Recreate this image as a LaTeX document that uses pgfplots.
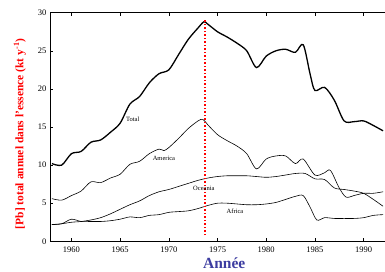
\documentclass[border=0pt]{standalone}
\usepackage{fontspec}
\setmainfont{Liberation Serif}
\usepackage{pgfplots}
\pgfplotsset{compat=1.18}
\definecolor{annee}{RGB}{60,60,160}
\begin{document}
\begin{tikzpicture}
\useasboundingbox (-50pt,-29.7pt) rectangle (335pt,241.3pt);
\begin{axis}[
  scale only axis, width=335pt, height=228.6pt,
  xmin=1957.8, xmax=1992.2, ymin=0, ymax=30,
  axis x line*=box, axis y line*=left,
  xtick={1960,1965,...,1990}, ytick={0,5,...,30},
  tick align=inside, major tick length=3pt,
  tick style={black, line width=0.6pt},
  axis line style={line width=0.9pt},
  /pgf/number format/assume math mode=true,
  /pgf/number format/1000 sep={},
  ticklabel style={font=\fontsize{8.5}{9}\selectfont},
  xticklabel style={yshift=-2pt},
  every axis y label/.style={at={(axis description cs:-0.09,0.47)}, rotate=90, anchor=center},
  every axis x label/.style={at={(axis description cs:0.52,-0.095)}, anchor=center},
  ylabel={\fontsize{11.5}{12}\selectfont\bfseries\color{red}[Pb] total annuel dans l'essence (kt y\textsuperscript{-1})},
  xlabel={\fontsize{15.5}{16}\selectfont\bfseries\color{annee}Année},
  clip=false,
]
% Total
\addplot[black, line width=1.3pt, smooth, tension=0.5] coordinates {
(1958,10.2)(1959,10.0)(1960,11.5)(1961,11.8)(1962,13.0)(1963,13.3)(1964,14.3)(1965,15.5)
(1966,18.0)(1967,19.0)(1968,20.8)(1969,22.0)(1970,22.5)(1971,24.5)(1972,26.5)(1973,28.0)
(1973.6,28.8)(1974,28.5)(1975,27.5)(1976,26.8)(1977,26.0)(1978,25.0)(1979,22.8)(1980,24.3)
(1981,25.0)(1982,25.2)(1983,24.8)(1983.8,25.8)(1984.5,22.0)(1985,19.8)(1986,20.2)(1987,18.5)
(1988,15.8)(1989,15.7)(1990,15.8)(1991,15.2)(1992,14.5)};
% America
\addplot[black, line width=0.6pt, smooth, tension=0.5] coordinates {
(1958,5.6)(1959,5.4)(1960,6.0)(1961,6.6)(1962,7.8)(1963,7.7)(1964,8.3)(1965,8.8)
(1966,10.1)(1967,10.5)(1968,11.5)(1969,12.1)(1969.5,11.9)(1970,12.3)(1971,13.5)(1972,14.8)
(1973,15.8)(1973.5,16.0)(1974,15.3)(1975,14.0)(1976,13.2)(1977,12.5)(1978,11.5)(1979,9.5)
(1980,10.8)(1981,11.2)(1982,11.2)(1983,10.2)(1983.8,10.8)(1985,8.7)(1986,9.0)(1986.6,9.3)
(1987.5,7.0)(1988.2,5.8)(1989,6.0)(1990,6.3)(1991,6.3)(1992,6.5)};
% Oceania
\addplot[black, line width=0.6pt, smooth, tension=0.5] coordinates {
(1958,2.2)(1959,2.3)(1960,2.5)(1961,2.6)(1962,2.8)(1963,3.1)(1964,3.6)(1965,4.2)
(1966,4.8)(1967,5.3)(1968,6.0)(1969,6.5)(1970,6.8)(1971,7.2)(1972,7.6)(1973,8.0)
(1974,8.3)(1975,8.5)(1976,8.6)(1977,8.6)(1978,8.6)(1979,8.5)(1980,8.4)(1981,8.5)
(1982,8.7)(1983,8.9)(1984,8.9)(1985,8.2)(1986,8.1)(1987,7.0)(1988,6.8)(1989,6.6)
(1990,6.3)(1991,5.5)(1992,4.6)};
% Africa
\addplot[black, line width=0.6pt, smooth, tension=0.5] coordinates {
(1958,2.2)(1959,2.3)(1960,2.9)(1961,2.6)(1962,2.6)(1963,2.6)(1964,2.7)(1965,2.9)
(1966,3.2)(1967,3.1)(1968,3.4)(1969,3.5)(1970,3.8)(1971,3.9)(1972,4.0)(1973,4.3)
(1974,4.7)(1975,5.0)(1976,5.0)(1977,4.9)(1978,4.8)(1979,4.8)(1980,4.9)(1981,5.1)
(1982,5.5)(1983,5.9)(1983.8,6.0)(1984.5,4.5)(1985.2,2.8)(1986,3.1)(1987,3.0)(1988,3.0)
(1989,3.0)(1990,3.1)(1991,3.4)(1992,3.5)};
% red dotted vertical line
\addplot[red, line width=1.6pt, dash pattern=on 1.6pt off 1.9pt] coordinates {(1973.7,0.8)(1973.7,29.2)};
\node[font=\fontsize{6.5}{7}\selectfont] at (axis cs:1966.3,16.0) {Total};
\node[font=\fontsize{6.5}{7}\selectfont] at (axis cs:1969.5,10.9) {America};
\node[font=\fontsize{6.5}{7}\selectfont] at (axis cs:1973.6,7.0) {Oceania};
\node[font=\fontsize{6.5}{7}\selectfont] at (axis cs:1976.8,4.0) {Africa};
\end{axis}
\end{tikzpicture}
\end{document}
